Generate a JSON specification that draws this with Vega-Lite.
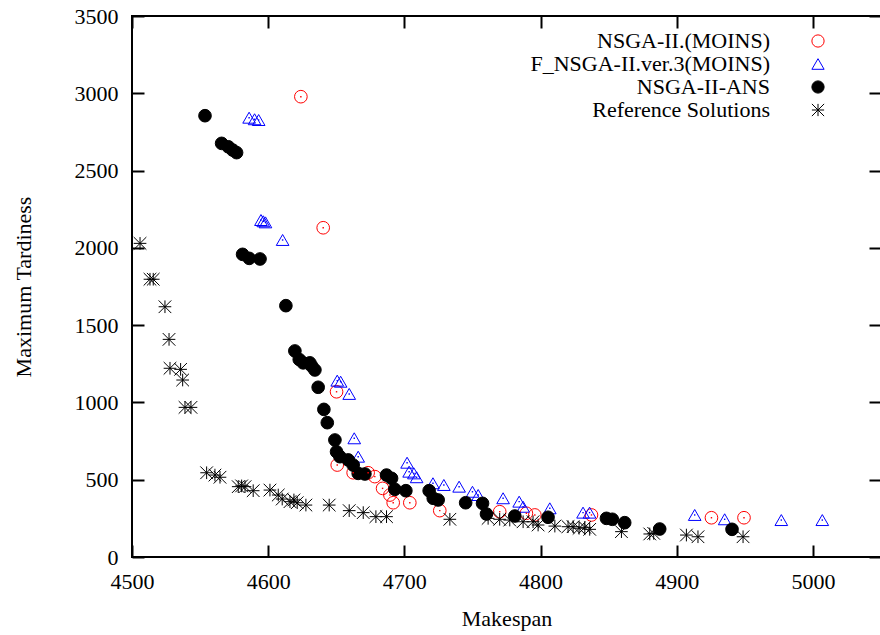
{
  "$schema": "https://vega.github.io/schema/vega-lite/v6.json",
  "width": 749,
  "height": 541,
  "autosize": {"type": "none"},
  "padding": {"left": 132, "top": 16, "right": 0, "bottom": 78},
  "background": "white",
  "config": {
    "font": "Liberation Serif",
    "view": {"stroke": "black", "strokeWidth": 2},
    "axis": {
      "grid": false,
      "domain": false,
      "format": "d",
      "labelFlush": false,
      "labelOverlap": false,
      "labelFont": "Liberation Serif",
      "titleFont": "Liberation Serif",
      "labelFontSize": 22,
      "titleFontSize": 22,
      "titleFontWeight": "normal",
      "labelColor": "black",
      "titleColor": "black",
      "tickColor": "black",
      "tickWidth": 2,
      "tickSize": -12
    },
    "legend": {
      "labelFont": "Liberation Serif",
      "labelFontSize": 22,
      "labelColor": "black"
    }
  },
  "datasets": {
    "pts": [
      {"series": "NSGA-II.(MOINS)", "x": 4624, "y": 2978},
      {"series": "NSGA-II.(MOINS)", "x": 4640.4, "y": 2130},
      {"series": "NSGA-II.(MOINS)", "x": 4650.2, "y": 1069},
      {"series": "NSGA-II.(MOINS)", "x": 4650.7, "y": 595},
      {"series": "NSGA-II.(MOINS)", "x": 4662.4, "y": 545},
      {"series": "NSGA-II.(MOINS)", "x": 4673.4, "y": 545},
      {"series": "NSGA-II.(MOINS)", "x": 4678.3, "y": 520},
      {"series": "NSGA-II.(MOINS)", "x": 4684, "y": 444},
      {"series": "NSGA-II.(MOINS)", "x": 4689.4, "y": 401},
      {"series": "NSGA-II.(MOINS)", "x": 4691.8, "y": 351},
      {"series": "NSGA-II.(MOINS)", "x": 4704, "y": 351},
      {"series": "NSGA-II.(MOINS)", "x": 4726, "y": 300},
      {"series": "NSGA-II.(MOINS)", "x": 4770, "y": 293},
      {"series": "NSGA-II.(MOINS)", "x": 4789.6, "y": 283},
      {"series": "NSGA-II.(MOINS)", "x": 4795.8, "y": 272},
      {"series": "NSGA-II.(MOINS)", "x": 4837.4, "y": 272},
      {"series": "NSGA-II.(MOINS)", "x": 4925.5, "y": 254},
      {"series": "NSGA-II.(MOINS)", "x": 4949.4, "y": 254},

      {"series": "F_NSGA-II.ver.3(MOINS)", "x": 4586, "y": 2842},
      {"series": "F_NSGA-II.ver.3(MOINS)", "x": 4590, "y": 2832},
      {"series": "F_NSGA-II.ver.3(MOINS)", "x": 4593, "y": 2827},
      {"series": "F_NSGA-II.ver.3(MOINS)", "x": 4594.7, "y": 2180},
      {"series": "F_NSGA-II.ver.3(MOINS)", "x": 4596.4, "y": 2172},
      {"series": "F_NSGA-II.ver.3(MOINS)", "x": 4598, "y": 2165},
      {"series": "F_NSGA-II.ver.3(MOINS)", "x": 4610.6, "y": 2051},
      {"series": "F_NSGA-II.ver.3(MOINS)", "x": 4650.7, "y": 1141},
      {"series": "F_NSGA-II.ver.3(MOINS)", "x": 4653.2, "y": 1134},
      {"series": "F_NSGA-II.ver.3(MOINS)", "x": 4659.5, "y": 1055},
      {"series": "F_NSGA-II.ver.3(MOINS)", "x": 4663.2, "y": 768},
      {"series": "F_NSGA-II.ver.3(MOINS)", "x": 4666.1, "y": 649},
      {"series": "F_NSGA-II.ver.3(MOINS)", "x": 4702, "y": 610},
      {"series": "F_NSGA-II.ver.3(MOINS)", "x": 4703.5, "y": 552},
      {"series": "F_NSGA-II.ver.3(MOINS)", "x": 4707, "y": 541},
      {"series": "F_NSGA-II.ver.3(MOINS)", "x": 4709, "y": 516},
      {"series": "F_NSGA-II.ver.3(MOINS)", "x": 4721, "y": 477},
      {"series": "F_NSGA-II.ver.3(MOINS)", "x": 4729, "y": 466},
      {"series": "F_NSGA-II.ver.3(MOINS)", "x": 4740.2, "y": 455},
      {"series": "F_NSGA-II.ver.3(MOINS)", "x": 4750, "y": 422},
      {"series": "F_NSGA-II.ver.3(MOINS)", "x": 4754.2, "y": 401},
      {"series": "F_NSGA-II.ver.3(MOINS)", "x": 4772.5, "y": 380},
      {"series": "F_NSGA-II.ver.3(MOINS)", "x": 4784.3, "y": 358},
      {"series": "F_NSGA-II.ver.3(MOINS)", "x": 4787.2, "y": 325},
      {"series": "F_NSGA-II.ver.3(MOINS)", "x": 4806.8, "y": 315},
      {"series": "F_NSGA-II.ver.3(MOINS)", "x": 4831.2, "y": 287},
      {"series": "F_NSGA-II.ver.3(MOINS)", "x": 4836, "y": 287},
      {"series": "F_NSGA-II.ver.3(MOINS)", "x": 4913.2, "y": 272},
      {"series": "F_NSGA-II.ver.3(MOINS)", "x": 4935.2, "y": 244},
      {"series": "F_NSGA-II.ver.3(MOINS)", "x": 4976.8, "y": 239},
      {"series": "F_NSGA-II.ver.3(MOINS)", "x": 5006.9, "y": 239},

      {"series": "NSGA-II-ANS", "x": 4553.6, "y": 2855},
      {"series": "NSGA-II-ANS", "x": 4565.8, "y": 2676},
      {"series": "NSGA-II-ANS", "x": 4570.7, "y": 2654},
      {"series": "NSGA-II-ANS", "x": 4573.9, "y": 2633},
      {"series": "NSGA-II-ANS", "x": 4576.8, "y": 2616},
      {"series": "NSGA-II-ANS", "x": 4581.2, "y": 1958},
      {"series": "NSGA-II-ANS", "x": 4586.1, "y": 1932},
      {"series": "NSGA-II-ANS", "x": 4594, "y": 1928},
      {"series": "NSGA-II-ANS", "x": 4613, "y": 1626},
      {"series": "NSGA-II-ANS", "x": 4619.6, "y": 1333},
      {"series": "NSGA-II-ANS", "x": 4622.8, "y": 1278},
      {"series": "NSGA-II-ANS", "x": 4625.7, "y": 1256},
      {"series": "NSGA-II-ANS", "x": 4630.6, "y": 1256},
      {"series": "NSGA-II-ANS", "x": 4632, "y": 1235},
      {"series": "NSGA-II-ANS", "x": 4634.3, "y": 1210},
      {"series": "NSGA-II-ANS", "x": 4636.7, "y": 1098},
      {"series": "NSGA-II-ANS", "x": 4640.9, "y": 955},
      {"series": "NSGA-II-ANS", "x": 4643.4, "y": 869},
      {"series": "NSGA-II-ANS", "x": 4649, "y": 757},
      {"series": "NSGA-II-ANS", "x": 4650.2, "y": 681},
      {"series": "NSGA-II-ANS", "x": 4652.7, "y": 649},
      {"series": "NSGA-II-ANS", "x": 4658.8, "y": 628},
      {"series": "NSGA-II-ANS", "x": 4662.4, "y": 595},
      {"series": "NSGA-II-ANS", "x": 4666.1, "y": 541},
      {"series": "NSGA-II-ANS", "x": 4671, "y": 537},
      {"series": "NSGA-II-ANS", "x": 4686.9, "y": 530},
      {"series": "NSGA-II-ANS", "x": 4690.6, "y": 509},
      {"series": "NSGA-II-ANS", "x": 4693, "y": 438},
      {"series": "NSGA-II-ANS", "x": 4701.1, "y": 429},
      {"series": "NSGA-II-ANS", "x": 4718.2, "y": 429},
      {"series": "NSGA-II-ANS", "x": 4721.2, "y": 380},
      {"series": "NSGA-II-ANS", "x": 4724.8, "y": 369},
      {"series": "NSGA-II-ANS", "x": 4745, "y": 351},
      {"series": "NSGA-II-ANS", "x": 4757.4, "y": 347},
      {"series": "NSGA-II-ANS", "x": 4760.3, "y": 278},
      {"series": "NSGA-II-ANS", "x": 4781.1, "y": 265},
      {"series": "NSGA-II-ANS", "x": 4805.5, "y": 257},
      {"series": "NSGA-II-ANS", "x": 4848.4, "y": 250},
      {"series": "NSGA-II-ANS", "x": 4852.7, "y": 244},
      {"series": "NSGA-II-ANS", "x": 4861.8, "y": 222},
      {"series": "NSGA-II-ANS", "x": 4887.5, "y": 181},
      {"series": "NSGA-II-ANS", "x": 4940.6, "y": 179},

      {"series": "Reference Solutions", "x": 4505.9, "y": 2029},
      {"series": "Reference Solutions", "x": 4513.2, "y": 1797},
      {"series": "Reference Solutions", "x": 4515.6, "y": 1797},
      {"series": "Reference Solutions", "x": 4524.2, "y": 1619},
      {"series": "Reference Solutions", "x": 4527.2, "y": 1408},
      {"series": "Reference Solutions", "x": 4527.9, "y": 1221},
      {"series": "Reference Solutions", "x": 4535.7, "y": 1214},
      {"series": "Reference Solutions", "x": 4537.2, "y": 1145},
      {"series": "Reference Solutions", "x": 4538.9, "y": 968},
      {"series": "Reference Solutions", "x": 4543.3, "y": 968},
      {"series": "Reference Solutions", "x": 4554.8, "y": 545},
      {"series": "Reference Solutions", "x": 4560.9, "y": 530},
      {"series": "Reference Solutions", "x": 4564.6, "y": 516},
      {"series": "Reference Solutions", "x": 4578, "y": 455},
      {"series": "Reference Solutions", "x": 4580.5, "y": 460},
      {"series": "Reference Solutions", "x": 4583, "y": 455},
      {"series": "Reference Solutions", "x": 4589, "y": 429},
      {"series": "Reference Solutions", "x": 4601.3, "y": 433},
      {"series": "Reference Solutions", "x": 4607.4, "y": 401},
      {"series": "Reference Solutions", "x": 4610.3, "y": 375},
      {"series": "Reference Solutions", "x": 4616, "y": 358},
      {"series": "Reference Solutions", "x": 4618.9, "y": 369},
      {"series": "Reference Solutions", "x": 4621.3, "y": 351},
      {"series": "Reference Solutions", "x": 4627.7, "y": 336},
      {"series": "Reference Solutions", "x": 4644.8, "y": 336},
      {"series": "Reference Solutions", "x": 4659.5, "y": 300},
      {"series": "Reference Solutions", "x": 4669.8, "y": 287},
      {"series": "Reference Solutions", "x": 4679.1, "y": 261},
      {"series": "Reference Solutions", "x": 4686.9, "y": 261},
      {"series": "Reference Solutions", "x": 4733.4, "y": 244},
      {"series": "Reference Solutions", "x": 4761.5, "y": 250},
      {"series": "Reference Solutions", "x": 4770, "y": 244},
      {"series": "Reference Solutions", "x": 4777.4, "y": 239},
      {"series": "Reference Solutions", "x": 4787.2, "y": 228},
      {"series": "Reference Solutions", "x": 4794.5, "y": 228},
      {"series": "Reference Solutions", "x": 4798.2, "y": 207},
      {"series": "Reference Solutions", "x": 4810.5, "y": 200},
      {"series": "Reference Solutions", "x": 4820.2, "y": 196},
      {"series": "Reference Solutions", "x": 4823.9, "y": 196},
      {"series": "Reference Solutions", "x": 4828.3, "y": 186},
      {"series": "Reference Solutions", "x": 4832.5, "y": 192},
      {"series": "Reference Solutions", "x": 4836.1, "y": 179},
      {"series": "Reference Solutions", "x": 4859.4, "y": 164},
      {"series": "Reference Solutions", "x": 4880.2, "y": 149},
      {"series": "Reference Solutions", "x": 4883.1, "y": 153},
      {"series": "Reference Solutions", "x": 4907.1, "y": 142},
      {"series": "Reference Solutions", "x": 4915.6, "y": 131},
      {"series": "Reference Solutions", "x": 4948.7, "y": 131}
    ]
  },
  "data": {"name": "pts"},
  "resolve": {"axis": {"x": "independent", "y": "independent"}},
  "layer": [
    {
      "mark": {"type": "point", "size": 160, "strokeWidth": 1, "opacity": 1},
      "encoding": {
        "x": {
          "field": "x", "type": "quantitative",
          "scale": {"domain": [4500, 5050], "nice": false, "zero": false},
          "axis": {"orient": "bottom", "title": "Makespan", "values": [4500, 4600, 4700, 4800, 4900, 5000],
                   "labelPadding": 26, "titleY": 61, "titleBaseline": "middle", "titlePadding": 0}
        },
        "y": {
          "field": "y", "type": "quantitative",
          "scale": {"domain": [0, 3500], "nice": false},
          "axis": {"orient": "left", "title": "Maximum Tardiness", "values": [0, 500, 1000, 1500, 2000, 2500, 3000, 3500],
                   "labelPadding": 26, "titleX": -109, "titleBaseline": "middle", "titlePadding": 0}
        },
        "shape": {
          "field": "series", "type": "nominal",
          "scale": {
            "domain": ["NSGA-II.(MOINS)", "F_NSGA-II.ver.3(MOINS)", "NSGA-II-ANS", "Reference Solutions"],
            "range": ["circle", "triangle-up", "circle", "M-1,0L1,0M0,-1L0,1M-1,-1L1,1M-1,1L1,-1"]
          },
          "legend": {
            "title": null, "orient": "none", "legendX": 675, "legendY": 14,
            "labelAlign": "right", "labelOffset": -59, "symbolSize": 150,
            "symbolStrokeWidth": 1, "rowPadding": 1, "labelLimit": 400
          }
        },
        "stroke": {
          "field": "series", "type": "nominal",
          "scale": {
            "domain": ["NSGA-II.(MOINS)", "F_NSGA-II.ver.3(MOINS)", "NSGA-II-ANS", "Reference Solutions"],
            "range": ["#ff0000", "#0000ff", "#000000", "#000000"]
          }
        },
        "fill": {
          "field": "series", "type": "nominal",
          "scale": {
            "domain": ["NSGA-II.(MOINS)", "F_NSGA-II.ver.3(MOINS)", "NSGA-II-ANS", "Reference Solutions"],
            "range": ["transparent", "transparent", "#000000", "transparent"]
          }
        }
      }
    },
    {
      "transform": [{"filter": "datum.series === 'NSGA-II.(MOINS)' || datum.series === 'F_NSGA-II.ver.3(MOINS)'"}],
      "mark": {"type": "square", "size": 2, "opacity": 1},
      "encoding": {
        "x": {"field": "x", "type": "quantitative", "axis": {"orient": "top", "labels": false, "title": null, "values": [4500, 4600, 4700, 4800, 4900, 5000]}},
        "y": {"field": "y", "type": "quantitative", "axis": {"orient": "right", "labels": false, "title": null, "values": [0, 500, 1000, 1500, 2000, 2500, 3000, 3500]}},
        "color": {
          "field": "series", "type": "nominal", "legend": null,
          "scale": {"domain": ["NSGA-II.(MOINS)", "F_NSGA-II.ver.3(MOINS)"], "range": ["#ff0000", "#0000ff"]}
        }
      }
    }
  ]
}
